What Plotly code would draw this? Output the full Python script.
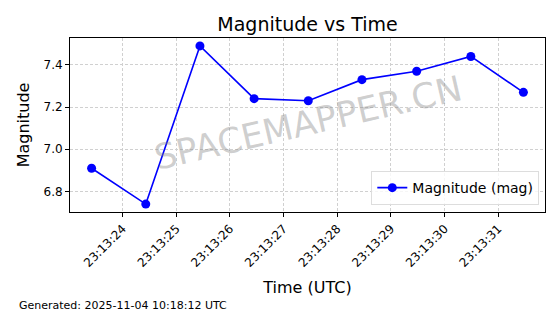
import plotly.graph_objects as go
import pandas as pd

times = ["2025-11-03 23:13:23.42", "2025-11-03 23:13:24.43", "2025-11-03 23:13:25.44",
         "2025-11-03 23:13:26.45", "2025-11-03 23:13:27.46", "2025-11-03 23:13:28.46",
         "2025-11-03 23:13:29.48", "2025-11-03 23:13:30.49", "2025-11-03 23:13:31.47"]
magnitudes = [6.91, 6.74, 7.49, 7.24, 7.23, 7.33, 7.37, 7.44, 7.27]
series_name = "Magnitude (mag)"
title = "Magnitude vs Time"
footer = "Generated: 2025-11-04 10:18:12 UTC"
watermark = "SPACEMAPPER.CN"

t = pd.to_datetime(times)
span = (t.max() - t.min()) * 0.05
x_range = [t.min() - span, t.max() + span]
ymin, ymax = min(magnitudes), max(magnitudes)
ypad = (ymax - ymin) * 0.05

W, H = 560, 314
L, R, T, B = 70, 15, 38, 102
pw, ph = W - L - R, H - T - B

font = "DejaVu Sans, sans-serif"
fig = go.Figure()
fig.add_trace(go.Scatter(x=t, y=magnitudes, mode="lines+markers", name=series_name,
                         line=dict(color="#0000ff", width=1.6),
                         marker=dict(color="#0000ff", size=9)))

axis_common = dict(showline=True, linecolor="black", linewidth=1, mirror=True,
                   ticks="outside", ticklen=4, tickcolor="black",
                   showgrid=True, gridcolor="#d0d0d0", griddash="3px,2px", gridwidth=0.8,
                   zeroline=False, tickfont=dict(family=font, size=12, color="black"))

fig.update_layout(
    width=W, height=H,
    margin=dict(l=L, r=R, t=T, b=B),
    paper_bgcolor="white", plot_bgcolor="white",
    font=dict(family=font, color="black"),
    title=dict(text=title, xref="paper", x=0.5, xanchor="center", y=1 - 24 / H, yanchor="middle",
               font=dict(family=font, size=19, color="black")),
    xaxis=dict(**axis_common, range=x_range, type="date", tickformat="%H:%M:%S",
               dtick=1000, tickangle=-45,
               title=dict(text="Time (UTC)", font=dict(family=font, size=16), standoff=12)),
    yaxis=dict(**axis_common, range=[ymin - ypad, ymax + ypad], dtick=0.2, tickformat=".1f",
               title=dict(text="Magnitude", font=dict(family=font, size=16), standoff=9)),
    legend=dict(x=0.988, y=0.04, xanchor="right", yanchor="bottom",
                bgcolor="rgba(255,255,255,0.8)", bordercolor="#dddddd", borderwidth=1,
                font=dict(family=font, size=14)),
    showlegend=True,
)
fig.add_annotation(text=watermark, xref="paper", yref="paper", x=(308 - L) / pw, y=(T + ph - 123) / ph,
                   showarrow=False, textangle=-13,
                   font=dict(family=font, size=35, color="rgba(128,128,128,0.38)"))
fig.add_annotation(text=footer, xref="paper", yref="paper", x=(17 - L) / pw, y=(T + ph - 305) / ph,
                   xanchor="left", yanchor="middle", showarrow=False,
                   font=dict(family=font, size=11, color="black"))
fig.write_html("out.html")
